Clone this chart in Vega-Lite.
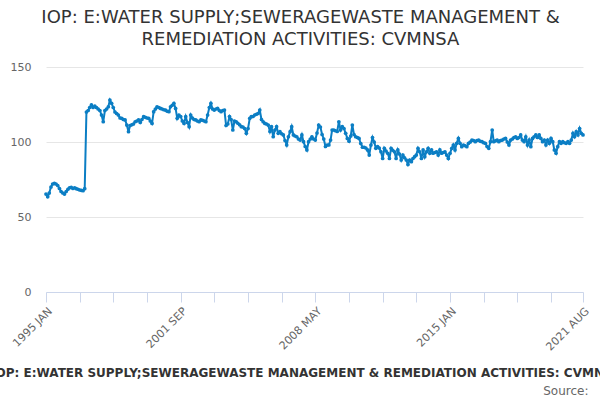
{
  "$schema": "https://vega.github.io/schema/vega-lite/v6.json",
  "width": 537,
  "height": 225,
  "autosize": "none",
  "padding": {"left": 46, "top": 67, "right": 17, "bottom": 108},
  "title": {
    "text": ["IOP: E:WATER SUPPLY;SEWERAGEWASTE MANAGEMENT &", "REMEDIATION ACTIVITIES: CVMNSA"],
    "font": "DejaVu Sans",
    "fontSize": 18,
    "fontWeight": "normal",
    "color": "#333333",
    "anchor": "middle",
    "dx": -14,
    "offset": 12,
    "lineHeight": 22
  },
  "data": {
    "values": [
      {"d": "1995-01", "v": 65.3}, {"d": "1995-02", "v": 63.5}, {"d": "1995-03", "v": 66}, {"d": "1995-04", "v": 70},
      {"d": "1995-05", "v": 72}, {"d": "1995-06", "v": 72.4}, {"d": "1995-07", "v": 72}, {"d": "1995-08", "v": 71},
      {"d": "1995-09", "v": 69}, {"d": "1995-10", "v": 67}, {"d": "1995-11", "v": 66}, {"d": "1995-12", "v": 65.3},
      {"d": "1996-01", "v": 67}, {"d": "1996-02", "v": 68.5}, {"d": "1996-03", "v": 69.5}, {"d": "1996-04", "v": 69.8},
      {"d": "1996-05", "v": 69}, {"d": "1996-06", "v": 69.5}, {"d": "1996-07", "v": 68.9}, {"d": "1996-08", "v": 68.5},
      {"d": "1996-09", "v": 68}, {"d": "1996-10", "v": 67.8}, {"d": "1996-11", "v": 67.5}, {"d": "1996-12", "v": 68.9},
      {"d": "1997-01", "v": 120}, {"d": "1997-02", "v": 121}, {"d": "1997-03", "v": 123}, {"d": "1997-04", "v": 124.7},
      {"d": "1997-05", "v": 123}, {"d": "1997-06", "v": 124}, {"d": "1997-07", "v": 123}, {"d": "1997-08", "v": 122},
      {"d": "1997-09", "v": 121}, {"d": "1997-10", "v": 118}, {"d": "1997-11", "v": 113.5}, {"d": "1997-12", "v": 121},
      {"d": "1998-01", "v": 122}, {"d": "1998-02", "v": 123.5}, {"d": "1998-03", "v": 128}, {"d": "1998-04", "v": 125.8},
      {"d": "1998-05", "v": 123}, {"d": "1998-06", "v": 120}, {"d": "1998-07", "v": 119}, {"d": "1998-08", "v": 118},
      {"d": "1998-09", "v": 116}, {"d": "1998-10", "v": 115.8}, {"d": "1998-11", "v": 115}, {"d": "1998-12", "v": 114.7},
      {"d": "1999-01", "v": 111.3}, {"d": "1999-02", "v": 106.9}, {"d": "1999-03", "v": 111}, {"d": "1999-04", "v": 111.5},
      {"d": "1999-05", "v": 112}, {"d": "1999-06", "v": 113.5}, {"d": "1999-07", "v": 114}, {"d": "1999-08", "v": 114.7},
      {"d": "1999-09", "v": 113}, {"d": "1999-10", "v": 115}, {"d": "1999-11", "v": 116.9}, {"d": "1999-12", "v": 116.5},
      {"d": "2000-01", "v": 116}, {"d": "2000-02", "v": 115.8}, {"d": "2000-03", "v": 114}, {"d": "2000-04", "v": 112.4},
      {"d": "2000-05", "v": 120.2}, {"d": "2000-06", "v": 122}, {"d": "2000-07", "v": 123.5}, {"d": "2000-08", "v": 123},
      {"d": "2000-09", "v": 122.4}, {"d": "2000-10", "v": 122}, {"d": "2000-11", "v": 121.5}, {"d": "2000-12", "v": 121.3},
      {"d": "2001-01", "v": 120.5}, {"d": "2001-02", "v": 120.2}, {"d": "2001-03", "v": 123.5}, {"d": "2001-04", "v": 124.5},
      {"d": "2001-05", "v": 125.8}, {"d": "2001-06", "v": 122.4}, {"d": "2001-07", "v": 115.8}, {"d": "2001-08", "v": 118},
      {"d": "2001-09", "v": 117}, {"d": "2001-10", "v": 114}, {"d": "2001-11", "v": 112.4}, {"d": "2001-12", "v": 116.9},
      {"d": "2002-01", "v": 113}, {"d": "2002-02", "v": 110.2}, {"d": "2002-03", "v": 118}, {"d": "2002-04", "v": 116},
      {"d": "2002-05", "v": 115}, {"d": "2002-06", "v": 114.7}, {"d": "2002-07", "v": 114}, {"d": "2002-08", "v": 113.5},
      {"d": "2002-09", "v": 114.7}, {"d": "2002-10", "v": 114.5}, {"d": "2002-11", "v": 114}, {"d": "2002-12", "v": 113.5},
      {"d": "2003-01", "v": 118}, {"d": "2003-02", "v": 123}, {"d": "2003-03", "v": 125.8}, {"d": "2003-04", "v": 122},
      {"d": "2003-05", "v": 121.3}, {"d": "2003-06", "v": 122}, {"d": "2003-07", "v": 122.4}, {"d": "2003-08", "v": 121},
      {"d": "2003-09", "v": 120.2}, {"d": "2003-10", "v": 121}, {"d": "2003-11", "v": 121.3}, {"d": "2003-12", "v": 111},
      {"d": "2004-01", "v": 112}, {"d": "2004-02", "v": 117}, {"d": "2004-03", "v": 115}, {"d": "2004-04", "v": 108},
      {"d": "2004-05", "v": 114}, {"d": "2004-06", "v": 113.5}, {"d": "2004-07", "v": 112.5}, {"d": "2004-08", "v": 111.5},
      {"d": "2004-09", "v": 110.2}, {"d": "2004-10", "v": 110}, {"d": "2004-11", "v": 109}, {"d": "2004-12", "v": 105.8},
      {"d": "2005-01", "v": 109}, {"d": "2005-02", "v": 115.8}, {"d": "2005-03", "v": 116.9}, {"d": "2005-04", "v": 117},
      {"d": "2005-05", "v": 118}, {"d": "2005-06", "v": 118.5}, {"d": "2005-07", "v": 119}, {"d": "2005-08", "v": 121.3},
      {"d": "2005-09", "v": 115}, {"d": "2005-10", "v": 113.5}, {"d": "2005-11", "v": 112.4}, {"d": "2005-12", "v": 112},
      {"d": "2006-01", "v": 111.3}, {"d": "2006-02", "v": 107}, {"d": "2006-03", "v": 110.2}, {"d": "2006-04", "v": 103.5},
      {"d": "2006-05", "v": 108}, {"d": "2006-06", "v": 110.2}, {"d": "2006-07", "v": 105.8}, {"d": "2006-08", "v": 106.9},
      {"d": "2006-09", "v": 105.5}, {"d": "2006-10", "v": 104.7}, {"d": "2006-11", "v": 101}, {"d": "2006-12", "v": 98},
      {"d": "2007-01", "v": 103.5}, {"d": "2007-02", "v": 106.9}, {"d": "2007-03", "v": 110.2}, {"d": "2007-04", "v": 104.7},
      {"d": "2007-05", "v": 104}, {"d": "2007-06", "v": 103.5}, {"d": "2007-07", "v": 102}, {"d": "2007-08", "v": 101.3},
      {"d": "2007-09", "v": 104.7}, {"d": "2007-10", "v": 100.2}, {"d": "2007-11", "v": 97}, {"d": "2007-12", "v": 94.7},
      {"d": "2008-01", "v": 100.2}, {"d": "2008-02", "v": 102}, {"d": "2008-03", "v": 103.5}, {"d": "2008-04", "v": 102},
      {"d": "2008-05", "v": 101.3}, {"d": "2008-06", "v": 106}, {"d": "2008-07", "v": 111.3}, {"d": "2008-08", "v": 110},
      {"d": "2008-09", "v": 105}, {"d": "2008-10", "v": 102}, {"d": "2008-11", "v": 97}, {"d": "2008-12", "v": 98},
      {"d": "2009-01", "v": 98}, {"d": "2009-02", "v": 101.3}, {"d": "2009-03", "v": 108}, {"d": "2009-04", "v": 108},
      {"d": "2009-05", "v": 107.5}, {"d": "2009-06", "v": 107}, {"d": "2009-07", "v": 113.5}, {"d": "2009-08", "v": 108},
      {"d": "2009-09", "v": 110.2}, {"d": "2009-10", "v": 109}, {"d": "2009-11", "v": 105.8}, {"d": "2009-12", "v": 102.4},
      {"d": "2010-01", "v": 100.5}, {"d": "2010-02", "v": 104}, {"d": "2010-03", "v": 111.3}, {"d": "2010-04", "v": 105},
      {"d": "2010-05", "v": 103.5}, {"d": "2010-06", "v": 103}, {"d": "2010-07", "v": 102.4}, {"d": "2010-08", "v": 99},
      {"d": "2010-09", "v": 96.5}, {"d": "2010-10", "v": 96.5}, {"d": "2010-11", "v": 96}, {"d": "2010-12", "v": 94.7},
      {"d": "2011-01", "v": 91.3}, {"d": "2011-02", "v": 98}, {"d": "2011-03", "v": 103}, {"d": "2011-04", "v": 100},
      {"d": "2011-05", "v": 95.8}, {"d": "2011-06", "v": 96.9}, {"d": "2011-07", "v": 96}, {"d": "2011-08", "v": 93.5},
      {"d": "2011-09", "v": 89}, {"d": "2011-10", "v": 95.8}, {"d": "2011-11", "v": 94}, {"d": "2011-12", "v": 92.5},
      {"d": "2012-01", "v": 89}, {"d": "2012-02", "v": 95.8}, {"d": "2012-03", "v": 94.5}, {"d": "2012-04", "v": 93.5},
      {"d": "2012-05", "v": 89}, {"d": "2012-06", "v": 94.7}, {"d": "2012-07", "v": 92}, {"d": "2012-08", "v": 88},
      {"d": "2012-09", "v": 91.3}, {"d": "2012-10", "v": 89.5}, {"d": "2012-11", "v": 88}, {"d": "2012-12", "v": 85},
      {"d": "2013-01", "v": 88}, {"d": "2013-02", "v": 86.9}, {"d": "2013-03", "v": 89}, {"d": "2013-04", "v": 90.2},
      {"d": "2013-05", "v": 91.3}, {"d": "2013-06", "v": 95.8}, {"d": "2013-07", "v": 93.5}, {"d": "2013-08", "v": 89},
      {"d": "2013-09", "v": 94.7}, {"d": "2013-10", "v": 90.2}, {"d": "2013-11", "v": 93.5}, {"d": "2013-12", "v": 95.8},
      {"d": "2014-01", "v": 92.5}, {"d": "2014-02", "v": 94.7}, {"d": "2014-03", "v": 92.5}, {"d": "2014-04", "v": 93},
      {"d": "2014-05", "v": 93.5}, {"d": "2014-06", "v": 91.3}, {"d": "2014-07", "v": 94.7}, {"d": "2014-08", "v": 92.5},
      {"d": "2014-09", "v": 93}, {"d": "2014-10", "v": 93.5}, {"d": "2014-11", "v": 91.3}, {"d": "2014-12", "v": 89},
      {"d": "2015-01", "v": 92.5}, {"d": "2015-02", "v": 95.8}, {"d": "2015-03", "v": 98}, {"d": "2015-04", "v": 94.7},
      {"d": "2015-05", "v": 99.1}, {"d": "2015-06", "v": 102.4}, {"d": "2015-07", "v": 99.1}, {"d": "2015-08", "v": 96.9},
      {"d": "2015-09", "v": 98}, {"d": "2015-10", "v": 97.5}, {"d": "2015-11", "v": 96.9}, {"d": "2015-12", "v": 99.1},
      {"d": "2016-01", "v": 100}, {"d": "2016-02", "v": 101.3}, {"d": "2016-03", "v": 101}, {"d": "2016-04", "v": 100.2},
      {"d": "2016-05", "v": 101}, {"d": "2016-06", "v": 101.3}, {"d": "2016-07", "v": 100.5}, {"d": "2016-08", "v": 100.2},
      {"d": "2016-09", "v": 99.5}, {"d": "2016-10", "v": 99.1}, {"d": "2016-11", "v": 97}, {"d": "2016-12", "v": 95.8},
      {"d": "2017-01", "v": 100.2}, {"d": "2017-02", "v": 108}, {"d": "2017-03", "v": 100.2}, {"d": "2017-04", "v": 100.8},
      {"d": "2017-05", "v": 101.3}, {"d": "2017-06", "v": 100.2}, {"d": "2017-07", "v": 101}, {"d": "2017-08", "v": 101.3},
      {"d": "2017-09", "v": 102}, {"d": "2017-10", "v": 102.4}, {"d": "2017-11", "v": 100}, {"d": "2017-12", "v": 98},
      {"d": "2018-01", "v": 101.3}, {"d": "2018-02", "v": 102}, {"d": "2018-03", "v": 103}, {"d": "2018-04", "v": 103.5},
      {"d": "2018-05", "v": 102.4}, {"d": "2018-06", "v": 103}, {"d": "2018-07", "v": 104.7}, {"d": "2018-08", "v": 101.3},
      {"d": "2018-09", "v": 100.2}, {"d": "2018-10", "v": 103.5}, {"d": "2018-11", "v": 98}, {"d": "2018-12", "v": 101.3},
      {"d": "2019-01", "v": 96.9}, {"d": "2019-02", "v": 102.4}, {"d": "2019-03", "v": 103.5}, {"d": "2019-04", "v": 104.7},
      {"d": "2019-05", "v": 103}, {"d": "2019-06", "v": 104.7}, {"d": "2019-07", "v": 102.4}, {"d": "2019-08", "v": 100.2},
      {"d": "2019-09", "v": 101.3}, {"d": "2019-10", "v": 98}, {"d": "2019-11", "v": 101.3}, {"d": "2019-12", "v": 99.1},
      {"d": "2020-01", "v": 102.4}, {"d": "2020-02", "v": 100.2}, {"d": "2020-03", "v": 94.7}, {"d": "2020-04", "v": 92.5},
      {"d": "2020-05", "v": 96.9}, {"d": "2020-06", "v": 100.2}, {"d": "2020-07", "v": 99.1}, {"d": "2020-08", "v": 100.2},
      {"d": "2020-09", "v": 99.5}, {"d": "2020-10", "v": 99.1}, {"d": "2020-11", "v": 100.2}, {"d": "2020-12", "v": 99.1},
      {"d": "2021-01", "v": 101.3}, {"d": "2021-02", "v": 105.8}, {"d": "2021-03", "v": 103.5}, {"d": "2021-04", "v": 106.9},
      {"d": "2021-05", "v": 104.7}, {"d": "2021-06", "v": 109}, {"d": "2021-07", "v": 105.8}, {"d": "2021-08", "v": 104.7}
    ]
  },
  "mark": {
    "type": "line",
    "color": "#0b7ec4",
    "strokeWidth": 2,
    "point": {"filled": true, "size": 14, "color": "#0b7ec4"}
  },
  "encoding": {
    "x": {
      "field": "d",
      "type": "temporal",
      "scale": {"type": "utc", "nice": false},
      "axis": {
        "values": [
          {"year": 1995, "month": 1, "date": 1, "utc": true},
          {"year": 1996, "month": 9, "date": 1, "utc": true},
          {"year": 1998, "month": 5, "date": 1, "utc": true},
          {"year": 2000, "month": 1, "date": 1, "utc": true},
          {"year": 2001, "month": 9, "date": 1, "utc": true},
          {"year": 2003, "month": 5, "date": 1, "utc": true},
          {"year": 2005, "month": 1, "date": 1, "utc": true},
          {"year": 2006, "month": 9, "date": 1, "utc": true},
          {"year": 2008, "month": 5, "date": 1, "utc": true},
          {"year": 2010, "month": 1, "date": 1, "utc": true},
          {"year": 2011, "month": 9, "date": 1, "utc": true},
          {"year": 2013, "month": 5, "date": 1, "utc": true},
          {"year": 2015, "month": 1, "date": 1, "utc": true},
          {"year": 2016, "month": 9, "date": 1, "utc": true},
          {"year": 2018, "month": 5, "date": 1, "utc": true},
          {"year": 2020, "month": 1, "date": 1, "utc": true},
          {"year": 2021, "month": 8, "date": 1, "utc": true}
        ],
        "labelExpr": "indexof([1995, 2001, 2008, 2015, 2021], utcyear(datum.value)) >= 0 ? upper(utcFormat(datum.value, '%Y %b')) : ''",
        "labelAngle": -45,
        "labelFont": "DejaVu Sans",
        "labelFontSize": 11,
        "labelColor": "#666666",
        "labelPadding": 3,
        "labelOverlap": false,
        "labelFlush": false,
        "domainColor": "#ccd6eb",
        "tickColor": "#ccd6eb",
        "tickSize": 10,
        "grid": false,
        "title": "IOP: E:WATER SUPPLY;SEWERAGEWASTE MANAGEMENT & REMEDIATION ACTIVITIES: CVMNSA",
        "titleFont": "DejaVu Sans",
        "titleFontSize": 12,
        "titleFontWeight": "bold",
        "titleColor": "#333333",
        "titleAlign": "center",
        "titleBaseline": "middle",
        "titleX": 260,
        "titleY": 80
      }
    },
    "y": {
      "field": "v",
      "type": "quantitative",
      "scale": {"domain": [0, 150], "nice": false},
      "axis": {
        "values": [0, 50, 100, 150],
        "domain": false,
        "ticks": false,
        "gridColor": "#e6e6e6",
        "labelFont": "DejaVu Sans",
        "labelFontSize": 11,
        "labelColor": "#666666",
        "labelPadding": 15,
        "title": "Source:",
        "titleFont": "DejaVu Sans",
        "titleFontSize": 12,
        "titleFontWeight": "normal",
        "titleColor": "#666666",
        "titleAngle": 0,
        "titleAlign": "right",
        "titleBaseline": "middle",
        "titleX": 542,
        "titleY": 323
      }
    }
  },
  "config": {
    "view": {"stroke": null}
  }
}
